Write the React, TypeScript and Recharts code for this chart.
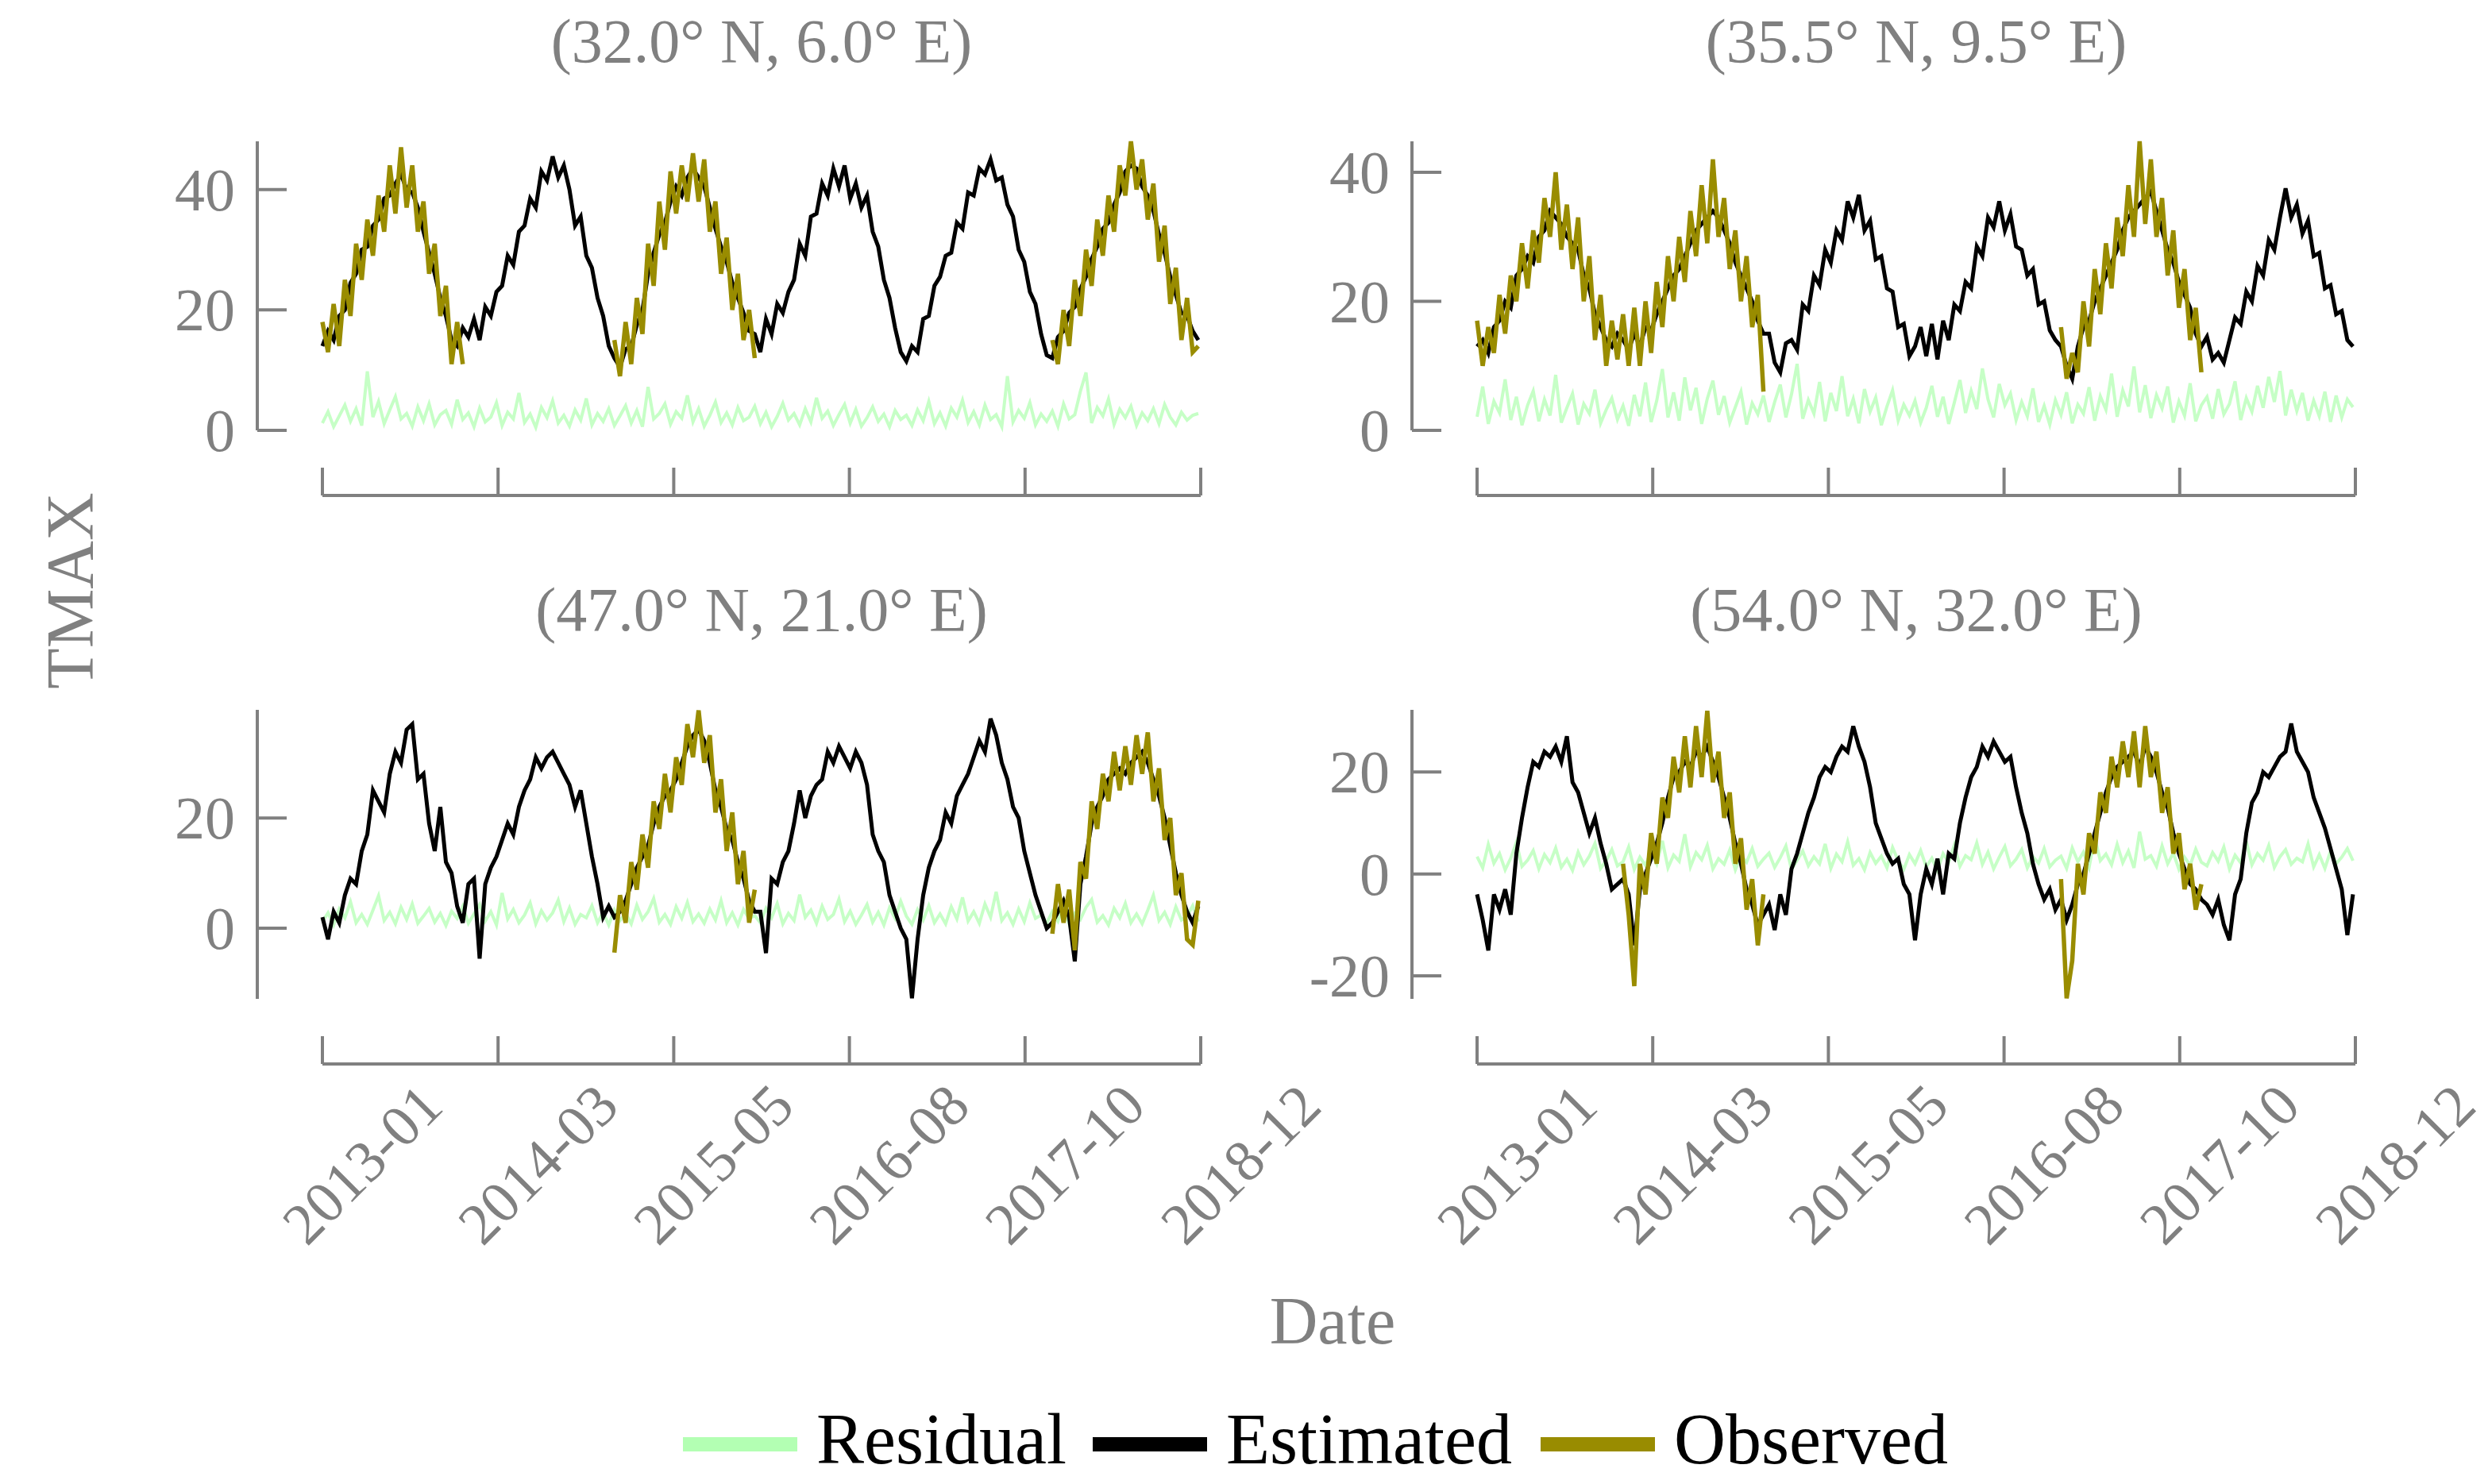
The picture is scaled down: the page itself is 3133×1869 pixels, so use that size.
import React from 'react';
import { LineChart, Line, XAxis, YAxis } from 'recharts';

// sampling: one value every 14 days from 2013-01-01 (day 0) to late Dec 2018
const STEP_DAYS = 14;
const X_END = 2190;
const xTicks = [0, 438, 876, 1314, 1752, 2190];
const xTickLabels = ['2013-01', '2014-03', '2015-05', '2016-08', '2017-10', '2018-12'];

const GRAY = '#808080';
const FONT = "'Liberation Serif', 'Times New Roman', serif";
const RES_COLOR = '#b3ffb3';
const EST_COLOR = '#000000';
const OBS_COLOR = '#998c00';
const SPINE_OFFSET = 82;

// ---- (32.0 N, 6.0 E) ----
const tlEst = [
  14, 16.5, 15, 19, 20, 24.5, 26, 30, 30.5, 34, 35, 38.5, 39, 41, 42.5, 40, 39.5, 37, 33, 29.5, 26, 22, 19, 15, 14, 17,
  15.5, 18.5, 15, 20.5, 19, 23, 24, 29, 27.5, 33, 34, 38.5, 37, 43, 41.5, 45.5, 42, 44, 40, 34, 35.5, 29, 27, 22, 19, 14,
  12, 10.5, 13.5, 14, 17.5, 20, 26, 29.5, 32.5, 34.5, 38, 40.5, 39, 42, 43.5, 42, 40.5, 37, 33.5, 30.5, 28, 24.5, 22, 19.5, 16.5, 16,
  13, 18.5, 16, 21, 19.5, 23, 25, 31, 29, 35.5, 36, 41, 39, 43.5, 40.5, 44, 38.5, 41, 37, 39, 33, 30.5, 25, 22, 17, 13,
  11.5, 14, 13, 18.5, 19, 24, 25.5, 29, 29.5, 34.5, 33.5, 39.5, 39, 43.5, 42.5, 45, 41.5, 42, 37.5, 35.5, 30, 28, 23, 21, 16, 12.5,
  12, 15.5, 16.5, 19.5, 20.5, 23.5, 25.5, 28.5, 30.5, 33.5, 34.5, 37.5, 39.5, 43, 44, 43.5, 40.5, 39, 36.5, 32.5, 29.5, 25.5, 22.5, 19.5, 19, 16.5, 15,
];
const tlRes = [
  1.2, 3.1, 0.6, 2.4, 4.2, 1.5, 3.6, 0.8, 9.8, 2.2, 4.8, 1.1, 3.4, 5.6, 1.9, 2.8, 0.7, 3.9, 1.6, 4.4, 0.9, 2.6, 3.3, 1.0, 5.1, 1.8,
  2.9, 0.6, 3.7, 1.4, 2.2, 4.6, 0.8, 3.0, 1.9, 6.2, 1.3, 2.7, 0.5, 3.8, 2.1, 4.9, 1.2, 2.5, 0.7, 3.4, 1.7, 5.3, 0.9, 2.8, 1.5, 3.6,
  0.8, 2.4, 4.1, 1.2, 3.3, 0.6, 7.2, 1.9, 2.8, 4.4, 1.0, 3.1, 2.0, 5.8, 1.4, 3.6, 0.7, 2.5, 4.7, 1.3, 2.9, 0.9, 3.8, 1.6, 2.2, 4.0,
  1.1, 3.0, 0.6, 2.3, 4.5, 1.7, 2.8, 0.9, 3.6, 1.4, 5.4, 2.0, 3.2, 0.8, 2.6, 4.3, 1.2, 3.5, 0.7, 2.1, 3.9, 1.5, 2.7, 0.6, 3.3, 1.8,
  2.5, 0.8, 3.4, 1.6, 4.8, 1.1, 2.9, 0.7, 3.7, 2.2, 5.0, 1.3, 3.1, 0.9, 4.2, 1.8, 2.6, 0.6, 9.0, 1.4, 3.3, 2.0, 4.6, 0.9, 2.7, 1.5,
  3.2, 0.7, 4.4, 1.9, 2.6, 6.5, 9.6, 1.2, 3.8, 2.4, 5.2, 1.0, 3.5, 2.1, 4.0, 0.8, 2.9, 1.6, 3.6, 1.1, 4.3, 2.2, 0.9, 3.0, 1.7, 2.5, 2.8,
];
const tlObs2013 = [18, 13, 21, 14, 25, 19, 31, 25, 35, 29, 39, 33, 44, 36, 47, 37, 44, 33, 38, 26, 31, 19, 24, 11, 18, 11];
const tlObs2015 = [15, 9, 18, 11, 22, 16, 31, 24, 38, 30, 43, 36, 44, 38, 46, 38, 45, 33, 38, 26, 32, 20, 26, 15, 20, 12];
const tlObs2018 = [15, 11, 20, 14, 25, 19, 30, 24, 35, 29, 39, 33, 44, 39, 48, 40, 45, 35, 41, 28, 34, 21, 27, 15, 22, 13, 14];

// ---- (35.5 N, 9.5 E) ----
const trEst = [
  13, 14, 12, 16, 17, 20, 19, 24, 25, 27, 26, 30, 31, 34, 33, 32, 30, 29, 28, 24, 22, 18, 16, 14, 13, 15,
  14, 12.5, 15, 13, 16, 15.5, 18, 20, 22, 24, 25, 27, 29, 31, 32, 33, 34, 33, 31, 29, 26, 24, 22, 20, 17, 15,
  15, 10.5, 9, 13.5, 14, 12.5, 19.5, 18.5, 24, 22.5, 28, 26, 31, 29.5, 35.5, 33, 36.5, 31, 32.5, 26.5, 27, 22, 21.5, 16, 16.5, 11.5,
  13, 16, 11.5, 16.5, 11, 17, 14, 19.5, 18.5, 23, 22, 28.5, 27, 33, 31.5, 35.5, 31, 33.5, 28.5, 28, 24, 25, 19.5, 20, 15.5, 14,
  13, 10, 8, 13, 16, 17, 20, 22, 24, 26, 28, 31, 33, 34, 35, 36, 37, 34, 31, 28, 26, 23, 21, 19, 15, 13,
  14.5, 11, 12, 10.5, 14, 17.5, 16.5, 21.5, 20, 25.5, 24, 29.5, 28, 33, 37.5, 33, 35, 30.5, 32.5, 27, 27.5, 22, 22.5, 18, 18.5, 14, 13,
];
const trRes = [
  2.1, 6.8, 1.0, 4.5, 2.7, 7.9, 1.6, 5.2, 0.8, 3.9, 6.1, 1.4, 4.8, 2.3, 8.6, 1.2, 3.5, 5.7, 0.9, 4.1, 2.6, 6.3, 1.1, 3.2, 5.0, 1.7,
  3.8, 0.7, 5.5, 2.2, 7.4, 1.3, 4.6, 9.5, 2.0, 5.9, 1.5, 8.2, 3.1, 6.6, 1.0, 4.9, 7.7, 2.4, 5.3, 1.2, 3.6, 6.0, 0.9, 4.2, 2.5, 5.4,
  1.3, 4.4, 7.1, 2.0, 5.6, 10.3, 1.8, 4.7, 2.6, 7.5, 1.4, 5.8, 3.0, 8.4, 2.2, 4.9, 1.1, 6.4, 2.9, 5.1, 0.8, 3.7, 6.2, 1.5, 4.0, 2.3,
  4.6, 1.2, 3.5, 6.9, 2.1, 5.2, 1.0, 4.3, 7.8, 2.7, 6.1, 3.3, 9.6, 4.8, 2.0, 7.2, 3.9, 5.7, 1.6, 4.4, 2.2, 6.5, 1.3, 3.8, 0.9, 4.7,
  2.4, 5.9, 1.1, 4.0, 2.6, 6.7, 1.5, 5.3, 3.2, 8.8, 2.1, 6.2, 3.7, 9.9, 2.8, 7.0, 1.9, 5.5, 3.4, 6.8, 1.2, 4.5, 2.3, 7.3, 1.4, 3.9,
  5.2, 1.8, 6.4, 2.5, 4.1, 7.6, 1.6, 5.0, 2.9, 6.9, 3.5, 8.3, 4.4, 9.2, 2.3, 6.3, 3.0, 5.8, 1.5, 4.6, 2.2, 6.0, 1.3, 5.4, 2.0, 4.8, 3.6,
];
const trObs2013 = [17, 10, 16, 12, 21, 15, 24, 20, 29, 22, 31, 26, 36, 30, 40, 28, 35, 25, 33, 20, 27, 14, 21, 10, 17, 11];
const trObs2014 = [18, 10, 19, 10, 20, 12, 23, 16, 27, 20, 30, 23, 34, 27, 38, 29, 42, 30, 36, 25, 31, 20, 27, 16, 21, 6];
const trObs2017 = [16, 8, 12, 9, 20, 13, 25, 18, 29, 22, 33, 27, 38, 30, 44.8, 32, 42, 30, 36, 24, 31, 19, 25, 14, 19, 9];

// ---- (47.0 N, 21.0 E) ----
const blEst = [
  2, -2, 3, 1, 6, 9, 8, 14, 17, 25, 23, 21, 28, 32, 30, 36, 37, 27, 28, 19, 14, 22, 12, 10, 4, 1,
  8, 9, -5.5, 8, 11, 13, 16, 19, 17, 22, 25, 27, 31, 29, 31, 32, 30, 28, 26, 22, 25, 19, 13, 8, 2, 4,
  2, 3, 5, 8, 11, 13, 15, 19, 22, 24, 25, 27, 30, 33, 35, 36, 34, 30, 25, 22, 18, 16, 12, 9, 5, 3,
  3, -4.5, 9, 8, 12, 14, 19, 25, 20, 24, 26, 27, 32, 30, 33, 31, 29, 32, 30, 26, 17, 14, 12, 6, 3, 0,
  -2, -12.7, -2, 6, 11, 14, 16, 21, 19, 24, 26, 28, 31, 34, 32, 38, 35, 30, 27, 22, 20, 14, 10, 6, 3, 0,
  1, 3, 5, 2, -6, 8, 13, 19, 22, 24, 27, 28, 29, 28, 30, 31, 32, 30, 27, 24, 20, 15, 10, 6, 3, 1, 4,
];
const blRes = [
  1.2, 2.8, 0.6, 3.5, 1.9, 4.8, 1.0, 2.5, 0.7, 3.3, 5.9, 1.4, 2.9, 0.8, 3.8, 1.6, 4.4, 0.9, 2.2, 3.6, 1.1, 2.7, 0.5, 3.1, 1.8, 4.0,
  0.9, 2.6, 4.3, 1.3, 3.0, 0.6, 6.4, 1.7, 3.4, 1.0, 2.4, 4.6, 0.8, 3.2, 1.5, 2.8, 5.1, 1.2, 3.7, 0.7, 2.5, 1.9, 4.1, 1.0, 2.9, 0.6,
  3.3, 1.4, 2.7, 0.8, 4.2, 1.6, 3.0, 5.4, 1.1, 2.5, 0.7, 3.9, 1.8, 4.7, 1.2, 2.6, 0.9, 3.5, 1.5, 5.0, 1.0, 2.8, 0.6, 3.4, 1.7, 2.3,
  1.0, 3.6, 1.9, 4.5, 0.8, 2.7, 1.4, 6.1, 2.0, 3.3, 0.9, 4.0, 1.6, 2.5, 5.3, 1.2, 3.1, 0.7, 2.4, 4.3, 1.1, 2.9, 0.6, 3.7, 1.8, 4.9,
  2.2, 0.7, 3.4, 1.5, 4.1, 1.0, 2.6, 0.8, 3.9, 1.7, 5.6, 1.3, 3.0, 0.9, 4.4, 2.0, 6.6, 1.4, 2.8, 0.7, 3.5, 1.2, 4.6, 1.8, 2.4, 0.9,
  3.0, 1.3, 4.2, 0.8, 2.7, 1.6, 3.8, 5.2, 1.1, 2.3, 0.6, 3.6, 1.9, 4.5, 1.0, 2.6, 0.8, 3.3, 6.0, 1.4, 2.9, 0.7, 3.9, 1.5, 2.2, 4.1, 1.2,
];
const blObs2015 = [-4.4, 6, 1, 12, 7, 17, 11, 23, 18, 28, 21, 31, 26, 37, 31, 39.5, 30, 35, 21, 27, 14, 21, 8, 14, 1, 7];
const blObs2018 = [-1, 8, 1, 7, -4, 12, 9, 23, 18, 28, 23, 32, 25, 33, 26, 35, 28, 35.5, 23, 29, 16, 20, 6, 10, -2, -3, 5];

// ---- (54.0 N, 32.0 E) ----
const brEst = [
  -4, -9, -15, -4, -7, -3, -8, 4, 11, 17, 22, 21, 24, 23, 25, 22, 27, 18, 16, 12, 8, 11, 6, 2, -3, -2,
  -1, -4, -14, -3, 0, 3, 6, 10, 15, 19, 20, 22, 21, 24, 23, 25, 22, 19, 15, 11, 6, 2, -3, -6, -10, -8,
  -6, -11, -4, -8, 1, 4, 8, 12, 15, 19, 21, 20, 23, 25, 24, 29, 25, 22, 17, 10, 7, 4, 2, 3, -2, -4,
  -13, -4, 1, -2, 3, -4, 4, 3, 10, 15, 19, 21, 25, 23, 26, 24, 22, 23, 17, 12, 8, 2, -2, -5, -3, -7,
  -5, -9, -6, -2, 0, 4, 8, 12, 16, 19, 21, 22, 23, 24, 21, 25, 23, 20, 16, 13, 8, 4, 1, -2, -3, -5,
  -6, -8, -5, -10, -13, -4, -1, 8, 14, 16, 20, 19, 21, 23, 24, 29.5, 24, 22, 20, 15, 12, 9, 5, 1, -3, -12, -4,
];
const brRes = [
  3.4, 1.2, 5.8, 2.1, 4.0, 0.8, 3.1, 6.2, 1.5, 2.7, 4.6, 1.0, 3.8, 2.2, 5.1, 1.3, 2.9, 0.7, 4.3, 1.8, 3.5, 6.0, 1.1, 2.6, 4.8, 1.6,
  2.4, 5.3, 0.9, 3.3, 1.7, 4.4, 2.0, 6.5, 1.2, 3.7, 2.5, 7.8, 1.4, 4.2, 2.8, 5.6, 1.0, 3.0, 1.9, 4.7, 0.8, 3.6, 2.3, 5.0, 1.5, 2.9,
  4.1, 1.3, 3.2, 5.5, 0.9, 2.7, 4.5, 1.6, 3.4, 2.0, 5.9, 1.1, 3.9, 2.4, 6.3, 1.7, 3.0, 0.8, 4.2, 2.1, 3.5, 1.2, 5.2, 2.6, 0.9, 3.8,
  2.0, 4.6, 1.4, 3.1, 0.7, 4.0, 2.3, 5.7, 1.5, 3.6, 2.8, 6.1, 1.9, 4.3, 1.0, 3.3, 5.4, 1.6, 2.9, 4.8, 1.2, 3.4, 2.1, 5.0, 1.4, 2.7,
  3.5, 1.1, 5.1, 2.4, 4.3, 1.3, 7.2, 2.6, 3.9, 1.8, 5.8, 2.2, 4.5, 1.2, 8.3, 2.9, 3.6, 1.5, 5.5, 2.0, 4.1, 0.9, 3.3, 1.7, 4.9, 2.3,
  1.6, 4.2, 2.5, 5.3, 1.0, 3.7, 2.2, 6.4, 1.8, 4.0, 2.7, 5.6, 1.3, 3.4, 4.8, 1.9, 3.1, 2.4, 5.9, 1.4, 3.8, 1.1, 4.5, 2.0, 3.3, 5.0, 2.6,
];
const brObs2014 = [2, -8, -22, 2, -4, 8, 2, 15, 11, 23, 16, 27, 17, 29, 19, 32, 18, 24, 11, 16, 2, 7, -7, -1, -14, -4];
const brObs2017 = [-1, -24.4, -17, 2, -4, 8, 4, 16, 12, 23, 17, 26, 19, 28, 17, 29, 19, 24, 12, 17, 4, 8, -3, 2, -7, -2];

type Span = [number, number[]]; // [first sample index, observed values]

interface Row {
  d: number;
  est: number;
  res: number;
  obs: number | null;
}

function buildRows(est: number[], res: number[], spans: Span[]): Row[] {
  const rows: Row[] = est.map((v, i) => ({ d: i * STEP_DAYS, est: v, res: res[i], obs: null }));
  spans.forEach(([start, vals]) => {
    vals.forEach((v, k) => {
      if (rows[start + k]) rows[start + k].obs = v;
    });
  });
  return rows;
}

const panels = [
  {
    title: '(32.0° N, 6.0° E)',
    rows: buildRows(tlEst, tlRes, [[0, tlObs2013], [52, tlObs2015], [130, tlObs2018]]),
    domain: [0, 48],
    ticks: [0, 20, 40],
    left: 0,
    top: 0,
    dateLabels: false,
  },
  {
    title: '(35.5° N, 9.5° E)',
    rows: buildRows(trEst, trRes, [[0, trObs2013], [26, trObs2014], [104, trObs2017]]),
    domain: [0, 44.8],
    ticks: [0, 20, 40],
    left: 1454,
    top: 0,
    dateLabels: false,
  },
  {
    title: '(47.0° N, 21.0° E)',
    rows: buildRows(blEst, blRes, [[52, blObs2015], [130, blObs2018]]),
    domain: [-12.8, 39.6],
    ticks: [0, 20],
    left: 0,
    top: 716,
    dateLabels: true,
  },
  {
    title: '(54.0° N, 32.0° E)',
    rows: buildRows(brEst, brRes, [[26, brObs2014], [104, brObs2017]]),
    domain: [-24.5, 32.2],
    ticks: [-20, 0, 20],
    left: 1454,
    top: 716,
    dateLabels: true,
  },
];

const CHART_W = 1679;
const CHART_H = 880;
const MARGIN = { top: 178, right: 167, bottom: 238, left: 306 };

const XTick = (props: any) => {
  const { x, y, payload, withLabel } = props;
  const idx = xTicks.indexOf(payload.value);
  const sy = y + SPINE_OFFSET;
  const lx = x + 50;
  const ly = sy + 126;
  return (
    <g>
      <line x1={x} x2={x} y1={sy} y2={sy - 35} stroke={GRAY} strokeWidth={4} />
      {withLabel && (
        <text
          x={lx}
          y={ly}
          textAnchor="middle"
          dominantBaseline="central"
          transform={`rotate(-45 ${lx} ${ly})`}
          fontSize={74}
          fontFamily={FONT}
          fill={GRAY}
        >
          {xTickLabels[idx]}
        </text>
      )}
    </g>
  );
};

const YTick = (props: any) => {
  const { x, y, payload } = props;
  const sx = x - SPINE_OFFSET;
  return (
    <g>
      <line x1={sx} x2={sx + 37} y1={y} y2={y} stroke={GRAY} strokeWidth={4} />
      <text x={sx - 28} y={y + 26} textAnchor="end" fontSize={76} fontFamily={FONT} fill={GRAY}>
        {payload.value}
      </text>
    </g>
  );
};

const Panel: React.FC<{ p: (typeof panels)[number] }> = ({ p }) => (
  <div style={{ position: 'absolute', left: p.left, top: p.top }}>
    <LineChart width={CHART_W} height={CHART_H} data={p.rows} margin={MARGIN}>
      <XAxis
        dataKey="d"
        type="number"
        domain={[0, X_END]}
        ticks={xTicks}
        interval={0}
        tick={(t: any) => <XTick {...t} withLabel={p.dateLabels} />}
        tickLine={false}
        tickSize={0}
        tickMargin={0}
        height={100}
        axisLine={{ stroke: GRAY, strokeWidth: 4, transform: `translate(0 ${SPINE_OFFSET})` }}
      />
      <YAxis
        type="number"
        domain={p.domain}
        ticks={p.ticks}
        interval={0}
        tick={(t: any) => <YTick {...t} />}
        tickLine={false}
        tickSize={0}
        tickMargin={0}
        width={100}
        axisLine={{ stroke: GRAY, strokeWidth: 4, transform: `translate(${-SPINE_OFFSET} 0)` }}
      />
      <Line
        dataKey="res"
        name="Residual"
        type="linear"
        stroke={RES_COLOR}
        strokeOpacity={0.75}
        strokeWidth={4}
        dot={false}
        isAnimationActive={false}
      />
      <Line
        dataKey="est"
        name="Estimated"
        type="linear"
        stroke={EST_COLOR}
        strokeWidth={5}
        dot={false}
        isAnimationActive={false}
      />
      <Line
        dataKey="obs"
        name="Observed"
        type="linear"
        stroke={OBS_COLOR}
        strokeWidth={5.5}
        dot={false}
        connectNulls={false}
        isAnimationActive={false}
      />
    </LineChart>
  </div>
);

const legendItems = [
  { label: 'Residual', color: RES_COLOR, x: 860 },
  { label: 'Estimated', color: EST_COLOR, x: 1376 },
  { label: 'Observed', color: OBS_COLOR, x: 1940 },
];

export default function App() {
  return (
    <div style={{ position: 'relative', width: 3133, height: 1869, background: '#fff', overflow: 'hidden' }}>
      <style>{'body{margin:0}'}</style>
      {panels.map((p) => (
        <Panel key={p.title} p={p} />
      ))}
      <svg width={3133} height={1869} style={{ position: 'absolute', left: 0, top: 0, pointerEvents: 'none' }}>
        {panels.map((p) => (
          <text
            key={p.title}
            x={p.left + 959}
            y={p.top + 78}
            textAnchor="middle"
            fontSize={78}
            fontFamily={FONT}
            fill={GRAY}
          >
            {p.title}
          </text>
        ))}
        <text
          transform="translate(88 744) rotate(-90)"
          textAnchor="middle"
          dominantBaseline="central"
          fontSize={84}
          fontFamily={FONT}
          fill={GRAY}
        >
          TMAX
        </text>
        <text x={1678} y={1663} textAnchor="middle" dominantBaseline="central" fontSize={84} fontFamily={FONT} fill={GRAY}>
          Date
        </text>
        {legendItems.map((it) => (
          <g key={it.label}>
            <rect x={it.x} y={1810} width={144} height={18} fill={it.color} />
            <text x={it.x + 168} y={1843} fontSize={90} fontFamily={FONT} fill="#000">
              {it.label}
            </text>
          </g>
        ))}
      </svg>
    </div>
  );
}
